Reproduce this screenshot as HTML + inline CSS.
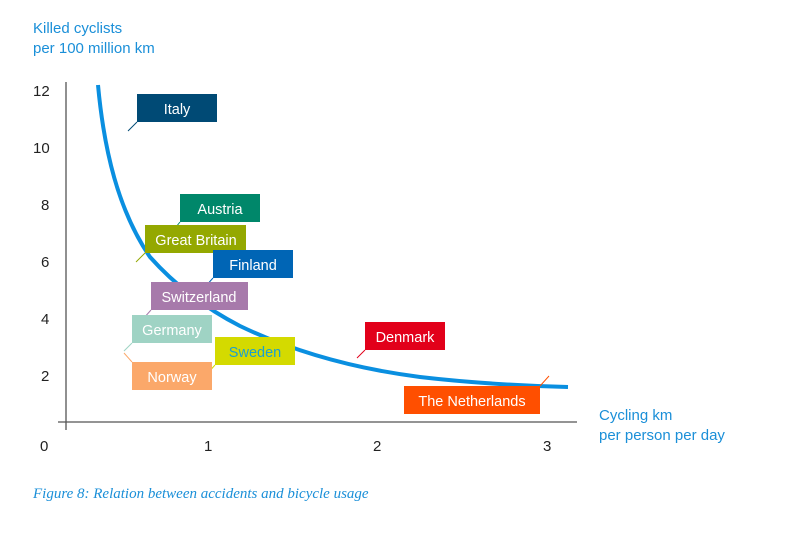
<!DOCTYPE html>
<html><head><meta charset="utf-8"><style>
body{margin:0;background:#fff;width:795px;height:538px;overflow:hidden;font-family:"Liberation Sans",sans-serif}
svg{position:absolute;left:0;top:0}
</style></head><body>
<svg width="795" height="538" viewBox="0 0 795 538">
<g font-family="Liberation Sans, sans-serif" fill="#1a8fd8" font-size="15">
<text x="33" y="33">Killed cyclists</text>
<text x="33" y="53">per 100 million km</text>
<text x="599" y="420">Cycling km</text>
<text x="599" y="440">per person per day</text>
</g>
<g font-family="Liberation Sans, sans-serif" fill="#222" font-size="15">
<text x="33" y="96">12</text><text x="33" y="153">10</text>
<text x="41" y="210">8</text><text x="41" y="267">6</text>
<text x="41" y="324">4</text><text x="41" y="381">2</text>
<text x="40" y="451">0</text><text x="204" y="451">1</text>
<text x="373" y="451">2</text><text x="543" y="451">3</text>
</g>
<line x1="66" y1="82" x2="66" y2="430" stroke="#555" stroke-width="1.3"/>
<line x1="58" y1="422" x2="577" y2="422" stroke="#555" stroke-width="1.3"/>
<path fill="none" stroke="#0a8fe0" stroke-width="4" d="M98,85 C104,150 118,210 150,257 C175,285 205,308 240,326 C290,350 350,368 420,377 C480,384 530,386 568,387"/>
<g stroke-width="1">
<line x1="137" y1="122" x2="128" y2="131" stroke="#004a75"/>
<line x1="180" y1="222" x2="172" y2="232" stroke="#00876a"/>
<line x1="145" y1="253" x2="136" y2="262" stroke="#94a800"/>
<line x1="213" y1="278" x2="205" y2="287" stroke="#0065b5"/>
<line x1="151" y1="310" x2="143" y2="319" stroke="#a77aab"/>
<line x1="132" y1="343" x2="124" y2="351" stroke="#9fd3c4"/>
<line x1="132" y1="362" x2="124" y2="353" stroke="#fba86a"/>
<line x1="215" y1="365" x2="207" y2="374" stroke="#d4da00"/>
<line x1="365" y1="350" x2="357" y2="358" stroke="#e2001a"/>
<line x1="540" y1="386" x2="549" y2="376" stroke="#ff4f00"/>
</g>
<g font-family="Liberation Sans, sans-serif" font-size="14.5" fill="#fff" text-anchor="middle">
<rect x="137" y="94" width="80" height="28" fill="#004a75"/><text x="177" y="114">Italy</text>
<rect x="180" y="194" width="80" height="28" fill="#00876a"/><text x="220" y="214">Austria</text>
<rect x="145" y="225" width="101" height="28" fill="#94a800"/><text x="196" y="245">Great Britain</text>
<rect x="213" y="250" width="80" height="28" fill="#0065b5"/><text x="253" y="270">Finland</text>
<rect x="151" y="282" width="97" height="28" fill="#a77aab"/><text x="199" y="302">Switzerland</text>
<rect x="132" y="315" width="80" height="28" fill="#9fd3c4"/><text x="172" y="335">Germany</text>
<rect x="132" y="362" width="80" height="28" fill="#fba86a"/><text x="172" y="382">Norway</text>
<rect x="215" y="337" width="80" height="28" fill="#d4da00"/><text x="255" y="357" fill="#1a9fd1">Sweden</text>
<rect x="365" y="322" width="80" height="28" fill="#e2001a"/><text x="405" y="342">Denmark</text>
<rect x="404" y="386" width="136" height="28" fill="#ff4f00"/><text x="472" y="406">The Netherlands</text>
</g>
<text x="33" y="498" font-family="Liberation Serif, serif" font-style="italic" font-size="15" fill="#1a8fd8">Figure 8: Relation between accidents and bicycle usage</text>
</svg>
</body></html>
